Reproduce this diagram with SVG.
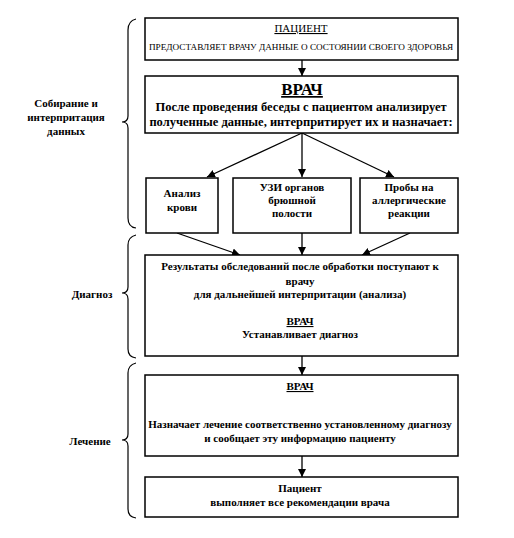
<svg xmlns="http://www.w3.org/2000/svg" width="514" height="538" viewBox="0 0 514 538">
<defs>
<style>
.box{fill:#fff;stroke:#000;stroke-width:1.5}
.t{font-family:"Liberation Serif","Times New Roman",serif;fill:#000;text-anchor:middle}
.b{font-weight:bold}
.u{text-decoration:underline}
.ln{stroke:#000;stroke-width:1.3;fill:none}
.br{stroke:#000;stroke-width:1.2;fill:none}
</style>
<marker id="ah" viewBox="0 0 10 10" refX="10" refY="5" markerWidth="8" markerHeight="8" markerUnits="userSpaceOnUse" orient="auto">
<path d="M0,0 L10,5 L0,10 z" fill="#000"/>
</marker>
</defs>
<rect width="514" height="538" fill="#fff"/>

<g id="braces">
<path class="br" d="M136,19 Q128,21 128,30 L128,116 Q128,122 122,122 Q128,122 128,128 L128,218 Q128,227 136,228"/>
<path class="br" d="M136,235 Q128,237 128,245 L128,287 Q128,293 122,293 Q128,293 128,299 L128,349 Q128,357 136,358"/>
<path class="br" d="M136,363 Q128,365 128,373 L128,434 Q128,440 122,440 Q128,440 128,446 L128,509 Q128,517 136,518"/>
</g>

<g id="labels">
<text class="t b" x="66" y="107" font-size="11">Собирание и</text>
<text class="t b" x="66" y="121" font-size="11">интерпритация</text>
<text class="t b" x="66" y="135" font-size="11">данных</text>
<text class="t b" x="92" y="298" font-size="11">Диагноз</text>
<text class="t b" x="90" y="445" font-size="11">Лечение</text>
</g>

<g id="connectors">
<line class="ln" x1="302" y1="60" x2="302" y2="76" marker-end="url(#ah)"/>
<line class="ln" x1="302" y1="133" x2="207" y2="177" marker-end="url(#ah)"/>
<line class="ln" x1="302" y1="133" x2="302" y2="177" marker-end="url(#ah)"/>
<line class="ln" x1="302" y1="133" x2="394" y2="177" marker-end="url(#ah)"/>
<line class="ln" x1="177" y1="233" x2="240" y2="255" marker-end="url(#ah)"/>
<line class="ln" x1="302" y1="233" x2="302" y2="255" marker-end="url(#ah)"/>
<line class="ln" x1="410" y1="233" x2="362" y2="255" marker-end="url(#ah)"/>
<line class="ln" x1="302" y1="356" x2="302" y2="375" marker-end="url(#ah)"/>
<line class="ln" x1="302" y1="456" x2="302" y2="477" marker-end="url(#ah)"/>
</g>

<g id="patient">
<rect class="box" x="145" y="18" width="313" height="42"/>
<text class="t u" x="301" y="32" font-size="11">ПАЦИЕНТ</text>
<text class="t" x="301" y="50" font-size="9.2">ПРЕДОСТАВЛЯЕТ ВРАЧУ ДАННЫЕ О СОСТОЯНИИ СВОЕГО ЗДОРОВЬЯ</text>
</g>

<g id="doctor1">
<rect class="box" x="145" y="76" width="313" height="57"/>
<text class="t b u" x="302" y="95" font-size="17">ВРАЧ</text>
<text class="t b" x="301" y="111" font-size="12.5">После проведения беседы с пациентом анализирует</text>
<text class="t b" x="301" y="126" font-size="12.5">полученные данные, интерпритирует их и назначает:</text>
</g>

<g id="blood">
<rect class="box" x="146" y="178" width="72" height="55"/>
<text class="t b" x="182" y="197" font-size="11">Анализ</text>
<text class="t b" x="182" y="211" font-size="11">крови</text>
</g>

<g id="uzi">
<rect class="box" x="233" y="178" width="118" height="55"/>
<text class="t b" x="292" y="191" font-size="11">УЗИ органов</text>
<text class="t b" x="292" y="204" font-size="11">брюшной</text>
<text class="t b" x="292" y="217" font-size="11">полости</text>
</g>

<g id="allergy">
<rect class="box" x="360" y="178" width="98" height="55"/>
<text class="t b" x="409" y="191" font-size="11">Пробы на</text>
<text class="t b" x="409" y="204" font-size="11">аллергические</text>
<text class="t b" x="409" y="217" font-size="11">реакции</text>
</g>

<g id="results">
<rect class="box" x="145" y="255" width="313" height="101"/>
<text class="t b" x="300" y="270" font-size="11">Результаты обследований после обработки поступают к</text>
<text class="t b" x="300" y="285" font-size="11">врачу</text>
<text class="t b" x="300" y="298" font-size="11">для дальнейшей интерпритации (анализа)</text>
<text class="t b u" x="300" y="325" font-size="11">ВРАЧ</text>
<text class="t b" x="300" y="338" font-size="11">Устанавливает диагноз</text>
</g>

<g id="doctor2">
<rect class="box" x="145" y="375" width="313" height="81"/>
<text class="t b u" x="300" y="390" font-size="11">ВРАЧ</text>
<text class="t b" x="300" y="428" font-size="11">Назначает лечение соответственно установленному диагнозу</text>
<text class="t b" x="300" y="442" font-size="11">и сообщает эту информацию пациенту</text>
</g>

<g id="patient2">
<rect class="box" x="145" y="477" width="313" height="40"/>
<text class="t b" x="300" y="492" font-size="11">Пациент</text>
<text class="t b" x="300" y="506" font-size="11">выполняет все рекомендации врача</text>
</g>
</svg>
